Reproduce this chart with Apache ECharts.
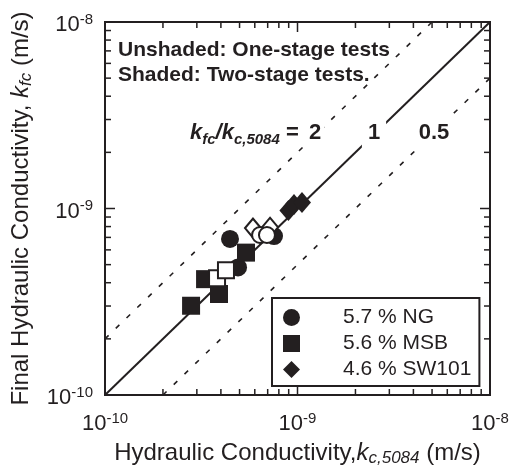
<!DOCTYPE html>
<html>
<head>
<meta charset="utf-8">
<script src="https://cdn.jsdelivr.net/npm/echarts@6/dist/echarts.min.js"></script>
<style>
html,body{margin:0;padding:0;background:#fff;}
#chart{width:512px;height:472px;}
</style>
</head>
<body>
<div id="chart"></div>
<script>
// ---- data ----
var ngFilledX = [4.46e-10, 4.91e-10, 7.55e-10];
var ngFilledY = [6.87e-10, 4.83e-10, 7.12e-10];
var ngOpenX = [6.39e-10, 6.94e-10];
var ngOpenY = [7.21e-10, 7.21e-10];
var msbFilledX = [2.80e-10, 3.31e-10, 3.91e-10, 5.40e-10];
var msbFilledY = [3.01e-10, 4.18e-10, 3.48e-10, 5.80e-10];
var msbOpenX = [3.82e-10, 4.25e-10];
var msbOpenY = [4.23e-10, 4.66e-10];
var swFilledX = [8.97e-10, 9.59e-10, 1.055e-9];
var swFilledY = [9.76e-10, 1.05e-9, 1.076e-9];
var swOpenX = [5.87e-10, 7.20e-10];
var swOpenY = [7.85e-10, 7.94e-10];
var ratios = [2, 1, 0.5];
var ratioLabels = ['2', '1', '0.5'];
var legendNames = ['5.7 % NG', '5.6 % MSB', '4.6 % SW101'];
var majorTicks = [1e-10, 1e-9, 1e-8];
var minorTicks = [2e-10,3e-10,4e-10,5e-10,6e-10,7e-10,8e-10,9e-10,2e-9,3e-9,4e-9,5e-9,6e-9,7e-9,8e-9,9e-9];
var axisMin = 1e-10, axisMax = 1e-8;

var INK = '#231f20';
var FONT = '"Liberation Sans", Arial, Helvetica, sans-serif';

function pairs(xs, ys){ return xs.map(function(x,i){ return [x, ys[i]]; }); }

function refLine(r){
  var x0 = Math.max(axisMin, axisMin / r);
  var x1 = Math.min(axisMax, axisMax / r);
  return [[x0, r * x0], [x1, r * x1]];
}

var tickData = majorTicks.map(function(v){ return [v, v, 1]; })
  .concat(minorTicks.map(function(v){ return [v, v, 0]; }));

function labelFmt(v){
  var e = Math.round(Math.log(v) / Math.LN10);
  return '{b|10}{s|' + e + '}';
}
var labelRich = {
  b: {fontSize: 22, fontFamily: FONT, color: INK, lineHeight: 26},
  s: {fontSize: 15, fontFamily: FONT, color: INK, lineHeight: 15, verticalAlign: 'top'}
};

var filledStyle = {color: INK, opacity: 1};
var openStyle = {color: '#fff', borderColor: INK, borderWidth: 2, opacity: 1};
var titleRich = {
  t: {fontSize: 24, fontFamily: FONT, color: INK, lineHeight: 28},
  i: {fontSize: 24, fontFamily: FONT, fontStyle: 'italic', color: INK, lineHeight: 28},
  sub: {fontSize: 17, fontFamily: FONT, fontStyle: 'italic', color: INK, lineHeight: 16, verticalAlign: 'bottom'}
};

var chart = echarts.init(document.getElementById('chart'), null, {renderer: 'canvas'});
var option = {
  animation: false,
  backgroundColor: '#fff',
  grid: {left: 105, right: 22, top: 22, bottom: 70, show: true, borderColor: INK, borderWidth: 2, backgroundColor: 'transparent'},
  xAxis: {
    type: 'log', logBase: 10, min: axisMin, max: axisMax,
    axisLine: {show: false}, axisTick: {show: false}, splitLine: {show: false},
    axisLabel: {formatter: labelFmt, rich: labelRich, margin: 16, showMinLabel: true, showMaxLabel: true},
    name: '{t|Hydraulic Conductivity,}{i|k}{sub|c,5084}{t| (m/s)}',
    nameLocation: 'middle', nameGap: 44,
    nameTextStyle: {rich: titleRich}
  },
  yAxis: {
    type: 'log', logBase: 10, min: axisMin, max: axisMax,
    axisLine: {show: false}, axisTick: {show: false}, splitLine: {show: false},
    axisLabel: {formatter: labelFmt, rich: labelRich, margin: 12, padding: [6, 0, 0, 0], showMinLabel: true, showMaxLabel: true},
    name: '{t|Final Hydraulic Conductivity, }{i|k}{sub|fc}{t| (m/s)}',
    nameLocation: 'middle', nameGap: 70,
    nameTextStyle: {rich: titleRich}
  },
  legend: {
    left: 272, top: 298, orient: 'vertical',
    borderColor: INK, borderWidth: 2, backgroundColor: '#fff',
    padding: [9, 8, 6, 11], itemGap: 5, itemWidth: 17, itemHeight: 17,
    selectedMode: false,
    data: [
      {name: legendNames[0], icon: 'circle'},
      {name: legendNames[1], icon: 'rect'},
      {name: legendNames[2], icon: 'diamond'}
    ],
    formatter: function(n){ return '{g|}{t|' + n + '}'; },
    textStyle: {
      fontSize: 21, fontFamily: FONT, color: INK,
      rich: {g: {width: 38}, t: {fontSize: 21, fontFamily: FONT, color: INK}}
    }
  },
  series: [
    {type: 'line', data: refLine(ratios[0]), symbol: 'none', silent: true, z: 1,
     lineStyle: {color: INK, width: 1.6, type: [5, 10]}},
    {type: 'line', data: refLine(ratios[1]), symbol: 'none', silent: true, z: 1,
     lineStyle: {color: INK, width: 2, type: 'solid'}},
    {type: 'line', data: refLine(ratios[2]), symbol: 'none', silent: true, z: 1,
     lineStyle: {color: INK, width: 1.6, type: [5, 10]}},
    {type: 'custom', silent: true, z: 6, data: tickData, encode: {x: 0, y: 1},
     renderItem: function(params, api){
       var cs = params.coordSys;
       var v = api.value(0);
       var len = api.value(2) ? 10 : 6;
       var px = api.coord([v, axisMin])[0];
       var py = api.coord([axisMin, v])[1];
       var st = {stroke: INK, lineWidth: 1.5};
       var b = cs.y + cs.height, r = cs.x + cs.width;
       return {type: 'group', children: [
         {type: 'line', shape: {x1: px, y1: b, x2: px, y2: b - len}, style: st},
         {type: 'line', shape: {x1: px, y1: cs.y, x2: px, y2: cs.y + len}, style: st},
         {type: 'line', shape: {x1: cs.x, y1: py, x2: cs.x + len, y2: py}, style: st},
         {type: 'line', shape: {x1: r, y1: py, x2: r - len, y2: py}, style: st}
       ]};
     }},
    {name: legendNames[0], type: 'scatter', symbol: 'circle', symbolSize: 18, z: 3,
     data: pairs(ngFilledX, ngFilledY), itemStyle: filledStyle},
    {name: legendNames[1], type: 'scatter', symbol: 'rect', symbolSize: 18, z: 3,
     data: pairs(msbFilledX, msbFilledY), itemStyle: filledStyle},
    {name: legendNames[2], type: 'scatter', symbol: 'diamond', symbolSize: [18, 21], z: 3,
     data: pairs(swFilledX, swFilledY), itemStyle: filledStyle},
    {name: 'SW101 one-stage', type: 'scatter', symbol: 'diamond', symbolSize: [16, 19], z: 4,
     data: pairs(swOpenX, swOpenY), itemStyle: openStyle},
    {name: 'NG one-stage', type: 'scatter', symbol: 'circle', symbolSize: 16, z: 4,
     data: pairs(ngOpenX, ngOpenY), itemStyle: openStyle},
    {name: 'MSB one-stage', type: 'scatter', symbol: 'rect', symbolSize: 16, z: 4,
     data: pairs(msbOpenX, msbOpenY), itemStyle: openStyle}
  ],
  graphic: [
    {type: 'text', x: 118, y: 50, z: 100, silent: true,
     style: {text: 'Unshaded: One-stage tests', font: 'bold 21px ' + FONT, fill: INK, verticalAlign: 'middle'}},
    {type: 'text', x: 118, y: 75, z: 100, silent: true,
     style: {text: 'Shaded: Two-stage tests.', font: 'bold 21px ' + FONT, fill: INK, verticalAlign: 'middle'}},
    {type: 'text', x: 190, y: 133, z: 100, silent: true,
     style: {
       text: '{k|k}{sub|fc}{k|/k}{sub|c,5084}{e| =}',
       verticalAlign: 'middle',
       rich: {
         k: {fontSize: 22, fontWeight: 'bold', fontStyle: 'italic', fontFamily: FONT, fill: INK, color: INK, lineHeight: 28},
         sub: {fontSize: 15, fontWeight: 'bold', fontStyle: 'italic', fontFamily: FONT, fill: INK, color: INK, lineHeight: 15, verticalAlign: 'bottom'},
         e: {fontSize: 22, fontWeight: 'bold', fontFamily: FONT, fill: INK, color: INK, lineHeight: 28}
       }
     }},
    {type: 'text', x: 315, y: 133, z: 100, silent: true,
     style: {text: ratioLabels[0], font: 'bold 22px ' + FONT, fill: INK, align: 'center', verticalAlign: 'middle',
             backgroundColor: '#fff', padding: [2, 3]}},
    {type: 'text', x: 374, y: 133, z: 100, silent: true,
     style: {text: ratioLabels[1], font: 'bold 22px ' + FONT, fill: INK, align: 'center', verticalAlign: 'middle',
             backgroundColor: '#fff', padding: [4, 6]}},
    {type: 'text', x: 434, y: 133, z: 100, silent: true,
     style: {text: ratioLabels[2], font: 'bold 22px ' + FONT, fill: INK, align: 'center', verticalAlign: 'middle',
             backgroundColor: '#fff', padding: [4, 6]}}
  ]
};
chart.setOption(option);
</script>
</body>
</html>
